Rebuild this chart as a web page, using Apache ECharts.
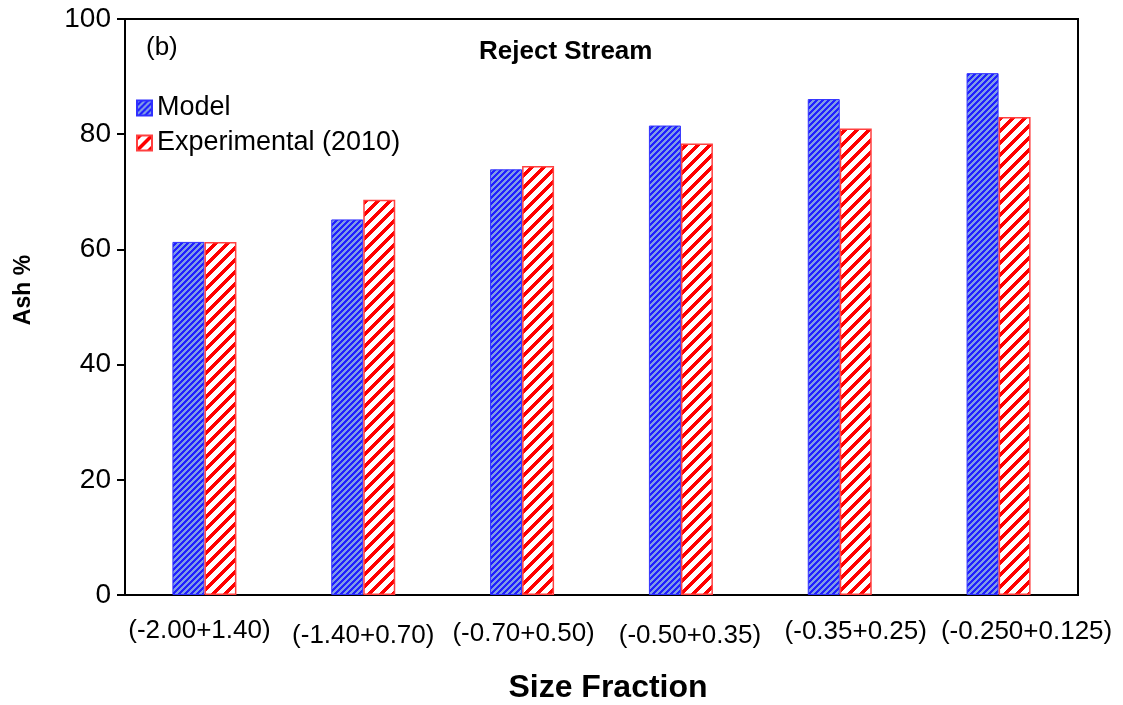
<!DOCTYPE html>
<html><head><meta charset="utf-8">
<script src="https://cdn.jsdelivr.net/npm/echarts@6/dist/echarts.min.js"></script>
<style>html,body{margin:0;padding:0;background:#fff;overflow:hidden}#c{width:1123px;height:705px}</style>
</head><body><div id="c"></div>
<script>
const categories = ['(-2.00+1.40)','(-1.40+0.70)','(-0.70+0.50)','(-0.50+0.35)','(-0.35+0.25)','(-0.250+0.125)'];
const modelValues = [61.3, 65.2, 73.9, 81.5, 86.1, 90.6];
const experimentalValues = [61.3, 68.6, 74.5, 78.4, 81.0, 83.0];
const yTicks = [0, 20, 40, 60, 80, 100];

// label layout nudges (pixels), kept apart from the data
const labelDx = [-5, 0, 1.5, 9, 16, 28];
const labelDy = [0, 5, 3, 5, 1, 1];

function stripeTile(n, w, bg, fg) {
  const cv = document.createElement('canvas');
  cv.width = n; cv.height = n;
  const ctx = cv.getContext('2d');
  const img = ctx.createImageData(n, n);
  const p = (h) => [parseInt(h.slice(1,3),16), parseInt(h.slice(3,5),16), parseInt(h.slice(5,7),16)];
  const b = p(bg), f = p(fg);
  for (let y = 0; y < n; y++) for (let x = 0; x < n; x++) {
    const c = ((x + y) % n) < w ? f : b;
    const i = (y * n + x) * 4;
    img.data[i] = c[0]; img.data[i+1] = c[1]; img.data[i+2] = c[2]; img.data[i+3] = 255;
  }
  ctx.putImageData(img, 0, 0);
  return cv;
}
const bluePat = { image: stripeTile(6, 3, '#2020ff', '#7f9be6'), repeat: 'repeat' };
const redPat = { image: stripeTile(12, 5, '#ffffff', '#ff0000'), repeat: 'repeat' };

const FF = 'Liberation Sans, Arial, sans-serif';
const xData = categories.map((c, i) => ({
  value: c,
  textStyle: { padding: [labelDy[i], labelDx[i] < 0 ? -2 * labelDx[i] : 0, 0, labelDx[i] > 0 ? 2 * labelDx[i] : 0] }
}));

const chart = echarts.init(document.getElementById('c'), null, { renderer: 'canvas' });
chart.setOption({
  animation: false,
  backgroundColor: '#fff',
  textStyle: { fontFamily: FF, color: '#000' },
  grid: { left: 125, right: 45, top: 19, bottom: 110, show: true, borderColor: '#000', borderWidth: 2, backgroundColor: 'transparent' },
  title: { text: 'Reject Stream', left: 474, top: 34, textStyle: { fontSize: 26, fontWeight: 'bold', color: '#000', fontFamily: FF } },
  legend: {
    orient: 'vertical', left: 131, top: 88, itemWidth: 15, itemHeight: 15, itemGap: 5,
    textStyle: { fontSize: 27, color: '#000', lineHeight: 30, fontFamily: FF },
    data: [{ name: 'Model', icon: 'rect' }, { name: 'Experimental (2010)', icon: 'rect' }]
  },
  graphic: [
    { type: 'text', left: 146, top: 35, style: { text: '(b)', fontSize: 26, fill: '#000', fontFamily: FF } },
    { type: 'text', x: 24, y: 290, rotation: Math.PI / 2,
      style: { text: 'Ash %', fontSize: 23, fontWeight: 'bold', fill: '#000', fontFamily: FF, align: 'center', verticalAlign: 'middle' } },
    { type: 'text', x: 608, y: 688,
      style: { text: 'Size Fraction', fontSize: 32, fontWeight: 'bold', fill: '#000', fontFamily: FF, align: 'center', verticalAlign: 'middle' } }
  ],
  xAxis: {
    type: 'category', data: xData,
    axisLine: { lineStyle: { color: '#000', width: 2 } },
    axisTick: { show: false },
    axisLabel: { fontSize: 26, color: '#000', margin: 23, interval: 0, fontFamily: FF }
  },
  yAxis: {
    type: 'value', min: yTicks[0], max: yTicks[yTicks.length - 1], interval: 20,
    axisLine: { show: true, lineStyle: { color: '#000', width: 2 } },
    axisTick: { show: true, inside: false, length: 8, lineStyle: { color: '#000', width: 2 } },
    splitLine: { show: false },
    axisLabel: { fontSize: 28, color: '#000', margin: 14, fontFamily: FF }
  },
  series: [
    { name: 'Model', type: 'bar', data: modelValues, barWidth: 32, barGap: '0%',
      itemStyle: { color: bluePat, borderColor: '#3030ff', borderWidth: 1 } },
    { name: 'Experimental (2010)', type: 'bar', data: experimentalValues, barWidth: 32, barGap: '0%',
      itemStyle: { color: redPat, borderColor: '#ff4040', borderWidth: 1.5 } }
  ]
});
</script></body></html>
